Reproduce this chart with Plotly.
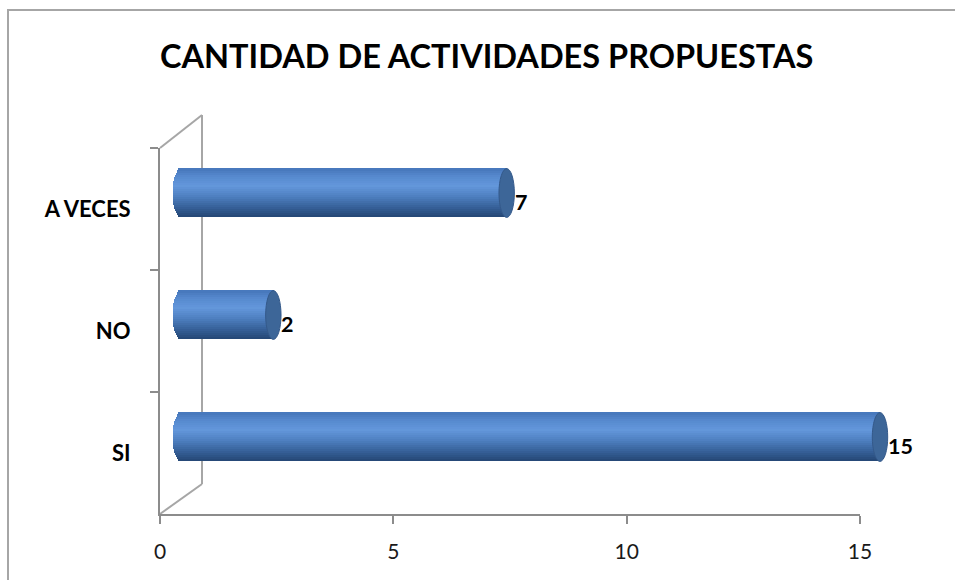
import plotly.graph_objects as go

# Survey answers and counts
categories = ["SI", "NO", "A VECES"]
values = [15, 2, 7]
x_ticks = [0, 5, 10, 15]
title_text = "CANTIDAD DE ACTIVIDADES PROPUESTAS"

W, H = 955, 580
PX_PER_UNIT = 700 / 15


def px_x(p):
    return p / W


def px_y(p):
    return 1 - p / H


# Vertical colour profile of the cylinder (t = 0 bottom edge, 1 top edge)
profile = [
    (0.00, (36, 70, 116)),
    (0.20, (54, 96, 152)),
    (0.45, (80, 130, 195)),
    (0.65, (99, 151, 219)),
    (0.85, (86, 137, 206)),
    (1.00, (70, 118, 186)),
]


def shade(t):
    for (t0, c0), (t1, c1) in zip(profile[:-1], profile[1:]):
        if t0 <= t <= t1:
            f = (t - t0) / (t1 - t0)
            return "rgb(%d,%d,%d)" % tuple(round(a + (b - a) * f) for a, b in zip(c0, c1))
    return "rgb(%d,%d,%d)" % profile[-1][1]


BAR_H = 0.40          # bar thickness in category units
CAP_A = 0.165         # half-width of the end ellipse in value units
N_STRIPES = 24
PAD = 0.5             # extra value range so the rounded ends are not clipped

fig = go.Figure()

# Invisible trace so the front category axis carries its labels
fig.add_trace(go.Scatter(x=[0] * len(categories), y=categories, mode="markers",
                         marker=dict(opacity=0), hoverinfo="skip", showlegend=False,
                         xaxis="x", yaxis="y"))

# Cylinder bodies: stacked horizontal stripes give the shaded, rounded look
step = BAR_H / N_STRIPES
for k in range(N_STRIPES):
    t = (k + 0.5) / N_STRIPES
    u = 2 * t - 1
    left = -CAP_A * max(0.0, 1 - u * u) ** 0.5
    fig.add_trace(go.Bar(
        x=[v - left for v in values], y=categories, base=left,
        orientation="h", width=step * 1.08, offset=-BAR_H / 2 + k * step,
        marker=dict(color=shade(t), line=dict(width=0)),
        hoverinfo="skip", showlegend=False, xaxis="x2", yaxis="y2",
    ))

shapes = []
# End caps of the cylinders
for i, v in enumerate(values):
    shapes.append(dict(type="circle", xref="x2", yref="y2",
                       x0=v - CAP_A, x1=v + CAP_A, y0=i - BAR_H / 2, y1=i + BAR_H / 2,
                       fillcolor="#3d6698", line=dict(color="#34598a", width=1), layer="above"))

# 3-D frame: back wall edge and the two depth diagonals
frame_col = "#a6a6a6"
for (xa, ya, xb, yb) in [(160, 148, 202, 115), (202, 115, 202, 484), (160, 514, 202, 484)]:
    shapes.append(dict(type="line", xref="paper", yref="paper",
                       x0=px_x(xa), y0=px_y(ya), x1=px_x(xb), y1=px_y(yb),
                       line=dict(color=frame_col, width=2), layer="below"))

# Chart area border
shapes.append(dict(type="rect", xref="paper", yref="paper",
                   x0=px_x(8), y0=px_y(10), x1=px_x(965), y1=px_y(595),
                   line=dict(color="#a6a6a6", width=2), fillcolor="rgba(0,0,0,0)", layer="below"))

annotations = [dict(text="<b>%s</b>" % title_text, xref="paper", yref="paper",
                    x=px_x(486), y=px_y(56), xanchor="center", yanchor="middle",
                    showarrow=False, font=dict(family="Lato", size=32.5, color="#000000"))]

# Value labels beside each cylinder end
for i, v in enumerate(values):
    annotations.append(dict(text="<b>%d</b>" % v, xref="x2", yref="y2", x=v, y=i,
                            xanchor="left", yanchor="middle", xshift=6, yshift=-9,
                            showarrow=False, font=dict(family="Lato", size=21.5, color="#000000")))

fig.update_layout(
    template="none",
    width=W, height=H,
    margin=dict(l=0, r=0, t=0, b=0),
    paper_bgcolor="white", plot_bgcolor="rgba(0,0,0,0)",
    barmode="overlay", bargap=0,
    showlegend=False,
    xaxis=dict(domain=[px_x(160), px_x(860)], range=[0, 15], tickvals=x_ticks,
               ticks="outside", ticklen=8, tickwidth=2, tickcolor="#8c8c8c",
               showline=True, linecolor="#8c8c8c", linewidth=2, showgrid=False,
               zeroline=False, automargin=False, anchor="y", ticklabelstandoff=10,
               tickfont=dict(family="Lato", size=21, color="#1a1a1a")),
    yaxis=dict(domain=[px_y(514), px_y(148)], type="category",
               categoryorder="array", categoryarray=categories, range=[-0.5, 2.5],
               tickson="boundaries", ticks="outside", ticklen=8, tickwidth=2,
               tickcolor="#8c8c8c", showline=True, linecolor="#8c8c8c", linewidth=2,
               showgrid=False, zeroline=False, automargin=False, anchor="x",
               ticklabelstandoff=23,
               tickfont=dict(family="Lato", size=22, color="#000000", weight="bold")),
    xaxis2=dict(domain=[px_x(180 - PAD * PX_PER_UNIT), px_x(880 + PAD * PX_PER_UNIT)],
                range=[-PAD, 15 + PAD], visible=False,
                anchor="y2", showgrid=False, zeroline=False, fixedrange=True),
    yaxis2=dict(domain=[px_y(498), px_y(132)], type="category",
                categoryorder="array", categoryarray=categories, range=[-0.5, 2.5],
                visible=False, anchor="x2", showgrid=False, zeroline=False),
    shapes=shapes,
    annotations=annotations,
)

fig.write_html("out.html")
